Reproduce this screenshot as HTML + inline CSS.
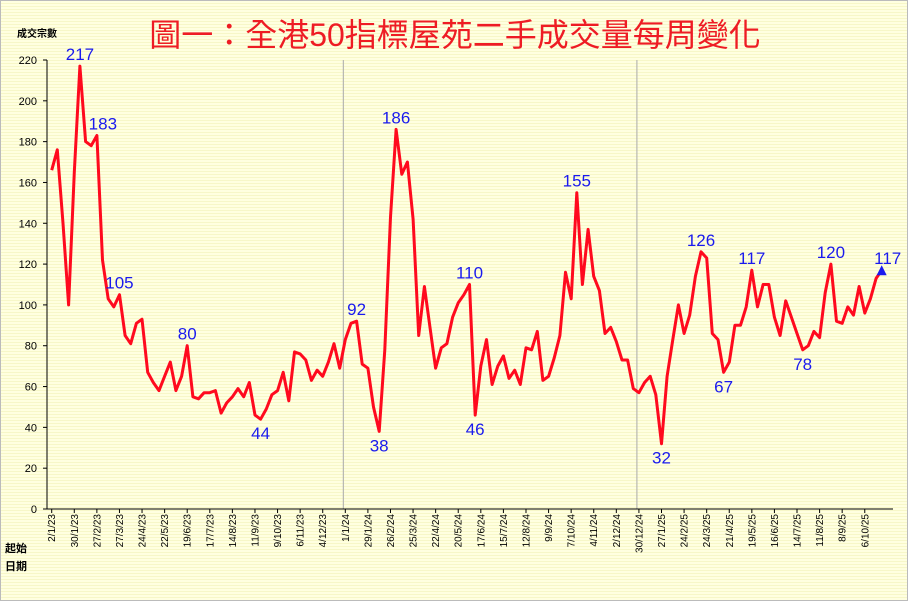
<!DOCTYPE html>
<html><head><meta charset="utf-8"><style>
html,body{margin:0;padding:0;}
body{width:908px;height:601px;overflow:hidden;background:#ffffe6;}
#wrap{position:absolute;left:0;top:0;width:906px;height:599px;border:1px solid #bbb;
background:repeating-linear-gradient(to bottom,#ffffe0 0px,#ffffe0 2px,#f7f7c8 2px,#f7f7c8 3px);}
svg{position:absolute;left:0;top:0;}
text{font-family:"Liberation Sans","Noto Sans CJK TC",sans-serif;}
</style></head><body>
<div id="wrap"></div>
<svg id="chart" width="908" height="601">
<text x="455" y="46" text-anchor="middle" font-size="32" fill="#ee1c24" style="font-family:'Liberation Sans','Noto Sans CJK TC',sans-serif">圖一：全港50指標屋苑二手成交量每周變化</text>
<text x="17" y="37" font-size="10" font-weight="bold" fill="#000">成交宗數</text>
<text x="5" y="552" font-size="11" font-weight="bold" fill="#000">起始</text>
<text x="5" y="570" font-size="11" font-weight="bold" fill="#000">日期</text>
<g id="axes"></g><g id="series"></g><g id="labels"></g>
</svg>
<script>
const values=[166,176,140,100,165,217,180,178,183,122,103,99,105,85,81,91,93,67,62,58,65,72,58,65,80,55,54,57,57,58,47,52,55,59,55,62,46,44,49,56,58,67,53,77,76,73,63,68,65,72,81,69,83,91,92,71,69,50,38,78,143,186,164,170,142,85,109,89,69,79,81,94,101,105,110,46,70,83,61,70,75,64,68,61,79,78,87,63,65,74,85,116,103,155,110,137,114,107,86,89,82,73,73,59,57,62,65,56,32,65,83,100,86,95,114,126,123,86,83,67,72,90,90,99,117,99,110,110,94,85,102,94,86,78,80,87,84,106,120,92,91,99,95,109,96,103,113,117];
const xTickLabels=["2/1/23","30/1/23","27/2/23","27/3/23","24/4/23","22/5/23","19/6/23","17/7/23","14/8/23","11/9/23","9/10/23","6/11/23","4/12/23","1/1/24","29/1/24","26/2/24","25/3/24","22/4/24","20/5/24","17/6/24","15/7/24","12/8/24","9/9/24","7/10/24","4/11/24","2/12/24","30/12/24","27/1/25","24/2/25","24/3/25","21/4/25","19/5/25","16/6/25","14/7/25","11/8/25","8/9/25","6/10/25"];
const yTicks=[0,20,40,60,80,100,120,140,160,180,200,220];
const annotIdx=[5,8,12,24,37,54,58,61,74,75,93,108,115,119,124,133,138,147];
const annotPos=["a","a","a","a","b","a","b","a","a","b","a","b","a","b","a","b","a","a"];
const yearLines=[52,104];

const NS="http://www.w3.org/2000/svg";
const X0=51.7, DX=830/147, Y0=509, YTOP=60;
function xS(i){return X0+i*DX;}
function yS(v){return Y0-(v/220)*(Y0-YTOP);}
function mk(tag,attrs,parent){const e=document.createElementNS(NS,tag);for(const k in attrs)e.setAttribute(k,attrs[k]);parent.appendChild(e);return e;}
const axes=document.getElementById('axes'),ser=document.getElementById('series'),lab=document.getElementById('labels');

yearLines.forEach(i=>{const l=mk('line',{x1:xS(i)-2,x2:xS(i)-2,y1:YTOP,y2:Y0,stroke:'#aaa','stroke-width':1},axes);

});

const ya=mk('line',{x1:47,x2:47,y1:YTOP,y2:Y0,stroke:'#000','stroke-width':1},axes);


const xa=mk('line',{x1:47,x2:893,y1:Y0,y2:Y0,stroke:'#000','stroke-width':1},axes);



yTicks.forEach(v=>{const y=yS(v);
const t=mk('line',{x1:43,x2:47,y1:y,y2:y,stroke:'#000'},axes);


const tx=mk('text',{x:37,y:y+4,'text-anchor':'end','font-size':11,fill:'#000'},axes);tx.textContent=v;

});

xTickLabels.forEach((s,k)=>{const x=xS(k*4);
const t=mk('line',{x1:x,x2:x,y1:Y0,y2:Y0+4,stroke:'#000'},axes);


const tx=mk('text',{x:0,y:0,'text-anchor':'end','font-size':10,fill:'#000',transform:`translate(${x+3.5},514) rotate(-90)`},axes);tx.textContent=s;

});

const pts=values.map((v,i)=>xS(i).toFixed(1)+','+yS(v).toFixed(1)).join(' ');
const pl=mk('polyline',{points:pts,fill:'none',stroke:'#ff0a1e','stroke-width':3,'stroke-linejoin':'round'},ser);



annotIdx.forEach((i,k)=>{const x=xS(i),y=yS(values[i]);
let tx;
if(annotPos[k]==='a'){tx=mk('text',{x:x+(i===8?6:0)+(i===147?6:0),y:y-6,'text-anchor':'middle','font-size':17,fill:'#1a1aee'},lab);}
else{tx=mk('text',{x:x,y:y+20,'text-anchor':'middle','font-size':17,fill:'#1a1aee'},lab);}
tx.textContent=values[i];

});

const lx=xS(values.length-1),ly=yS(values[values.length-1]);
const tri=mk('polygon',{points:`${lx-5},${ly+5} ${lx+5},${ly+5} ${lx},${ly-5}`,fill:'#1a1aee'},lab);


</script>
</body></html>
